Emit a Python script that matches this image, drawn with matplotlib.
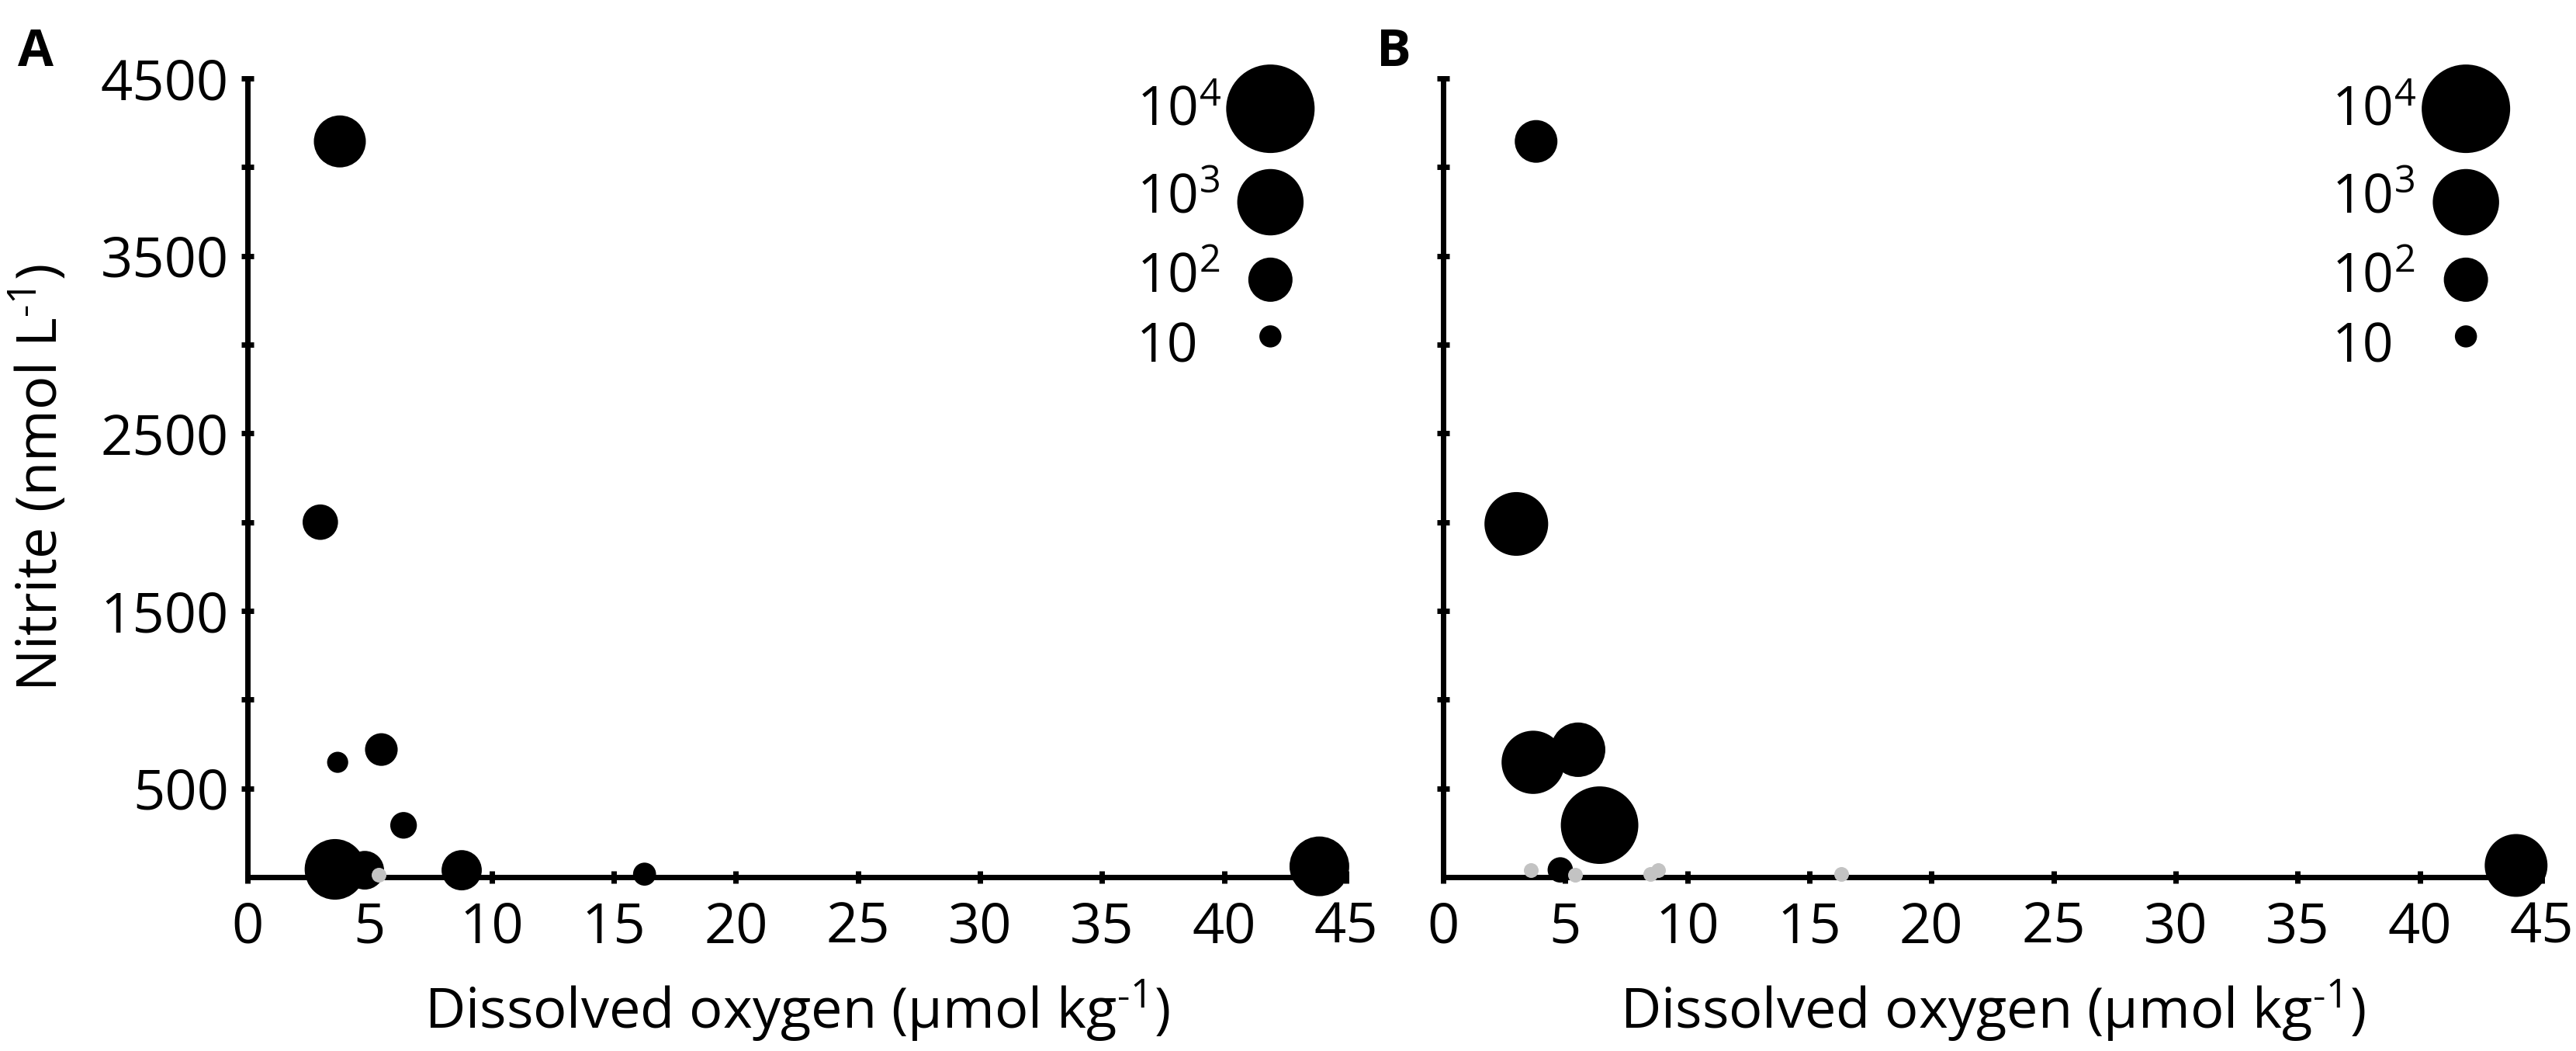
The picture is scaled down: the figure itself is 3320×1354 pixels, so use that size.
import numpy as np
import matplotlib.pyplot as plt

plt.rcParams['font.family'] = ['Open Sans', 'DejaVu Sans']
plt.rcParams['mathtext.default'] = 'regular'

# panel A: black circles (dissolved oxygen, nitrite, gene copies)
a_oxygen = [3.78, 2.98, 3.69, 5.48, 6.39, 3.58, 4.80, 8.77, 16.26, 43.9]
a_nitrite = [4145, 2000, 647, 719, 292, 44, 39, 39, 17, 61]
a_copies = [224, 40, 9, 30, 16, 550, 56, 66, 11, 500]
# panel A: not detected (grey)
a_nd_oxygen = [5.38]
a_nd_nitrite = [13]

# panel B
b_oxygen = [3.81, 3.00, 3.69, 5.53, 6.41, 4.80, 43.95]
b_nitrite = [4145, 1990, 647, 718, 293, 41, 66]
b_copies = [85, 760, 720, 290, 3200, 14, 690]
b_nd_oxygen = [3.61, 5.40, 8.48, 8.82, 16.3]
b_nd_nitrite = [41, 13, 19, 41, 19]

legend_values = [10000, 1000, 100, 10]
legend_labels = ['10$^4$', '10$^3$', '10$^2$', '10']

DPI = 200
PX_PER_LOG = 28.5     # marker diameter (px) per decade
ND_DIAM = 19          # grey marker diameter (px)


def size_of(v):
    d = PX_PER_LOG * np.log10(np.asarray(v, dtype=float)) * 72 / DPI
    return d ** 2


fig = plt.figure(figsize=(16.6, 6.77), dpi=DPI)

axes_left = [0.0961, 0.5602]
tag_x = [0.014, 0.541]
panels = [
    ('A', a_oxygen, a_nitrite, a_copies, a_nd_oxygen, a_nd_nitrite),
    ('B', b_oxygen, b_nitrite, b_copies, b_nd_oxygen, b_nd_nitrite),
]

for left, tx, (tag, ox, no2, cp, nd_ox, nd_no2) in zip(axes_left, tag_x, panels):
    ax = fig.add_axes([left, 0.1654, 0.4265, 0.760])
    ax.scatter(ox, no2, s=size_of(cp), color='black', linewidths=0,
               clip_on=False, zorder=3)
    nd_s = (ND_DIAM * 72 / DPI) ** 2
    ax.scatter(nd_ox, nd_no2, s=nd_s, color='#c3c3c3', linewidths=0,
               clip_on=False, zorder=4)

    # size legend
    leg_y = [0.962, 0.845, 0.748, 0.677]
    txt_y = [0.941, 0.831, 0.732, 0.645]
    ax.scatter([0.931] * 4, leg_y, s=size_of(legend_values), color='black',
               linewidths=0, transform=ax.transAxes, clip_on=False)
    for lab, ty in zip(legend_labels, txt_y):
        ax.text(0.809, ty, lab, transform=ax.transAxes, fontsize=25,
                ha='left', va='baseline')

    ax.set_xlim(0, 45)
    ax.set_ylim(0, 4500)
    ax.set_xticks(np.arange(0, 46, 5))
    ax.set_yticks(np.arange(500, 4501, 500))
    if tag == 'A':
        ax.set_yticklabels([str(t) if t % 1000 == 500 else '' for t in range(500, 4501, 500)])
        ax.set_ylabel('Nitrite (nmol L$^{\u2010 1}$)', fontsize=26, labelpad=14)
    else:
        ax.set_yticklabels([])
    ax.set_xlabel('Dissolved oxygen (\u00b5mol kg$^{\u2010 1}$)', fontsize=26, labelpad=10)

    for side in ['top', 'right']:
        ax.spines[side].set_visible(False)
    for side in ['left', 'bottom']:
        ax.spines[side].set_linewidth(2.5)
    ax.tick_params(direction='inout', length=5.5, width=2.5, labelsize=26)
    ax.tick_params(axis='x', pad=8)
    ax.tick_params(axis='y', pad=6)

    fig.text(tx, 0.975, tag, fontsize=24, fontweight='bold',
             ha='center', va='top')

fig.savefig('out.png', dpi=DPI)
